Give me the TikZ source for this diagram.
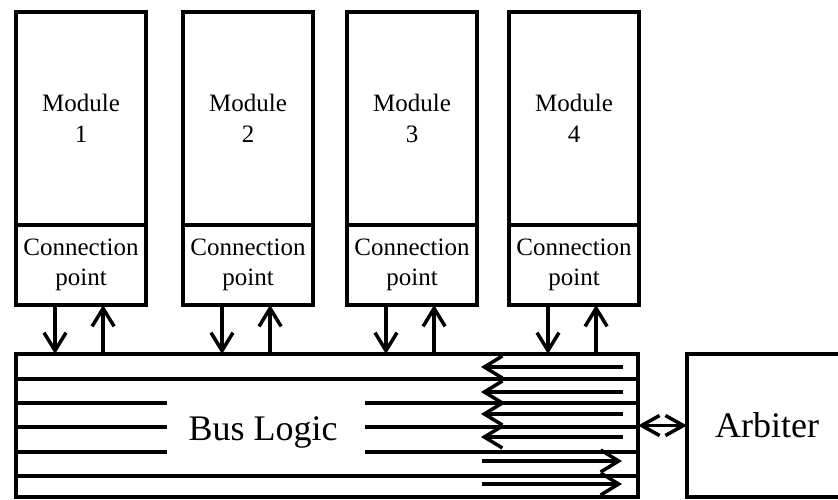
\documentclass[tikz,border=0pt]{standalone}
\usepackage{fontspec}
\setmainfont{Liberation Serif}
\usetikzlibrary{arrows.meta,calc}

\tikzset{
  box/.style={draw, line width=3.5pt, inner sep=0pt, outer sep=0pt, align=center},
  wire/.style={line width=3.5pt},
  barb/.style={line width=3.5pt, -{Straight Barb[length=18pt,width=22pt]}},
  dbarb/.style={line width=3.5pt, {Straight Barb[length=18pt,width=20pt]}-{Straight Barb[length=18pt,width=20pt]}},
}

\begin{document}
\begin{tikzpicture}[x=1pt,y=-1pt]
    \useasboundingbox (0,0) rectangle (838,499);
    \clip (0,0) rectangle (838,499);
    \node[box, minimum width=622pt, minimum height=143pt] (bus) at (327,425.5) {};
    \node[font=\fontsize{36}{40}\selectfont, anchor=base] (buslabel) at (263,440) {Bus Logic};
    \node[box, minimum width=160pt, minimum height=143pt, font=\fontsize{36}{40}\selectfont] (arb) at (767,425.5) {Arbiter};
    \foreach \i/\x in {1/81,2/248,3/412,4/574} {
      \node[box, minimum width=130pt, minimum height=213pt, font=\fontsize{25}{31}\selectfont]
        (m\i) at (\x,118.5) {Module\\\i};
      \node[box, minimum width=130pt, minimum height=80pt, font=\fontsize{25}{30}\selectfont, anchor=north]
        (cp\i) at (m\i.south) {Connection\\point};
      \coordinate (dn\i) at ($(cp\i.south west)!0.30!(cp\i.south east)$);
      \coordinate (up\i) at ($(cp\i.south west)!0.67!(cp\i.south east)$);
      \draw[barb] (dn\i) -- (dn\i |- bus.north);
      \draw[barb] (up\i |- bus.north) -- (up\i);
    }
    \foreach \y in {379,476}
      \draw[wire] (bus.west |- 0,\y) -- (bus.east |- 0,\y);
    \foreach \y in {403,427,452} {
      \draw[wire] (bus.west |- 0,\y) -- (167,\y);
      \draw[wire] (365,\y) -- (bus.east |- 0,\y);
    }
    \foreach \y in {367,392,414,437}
      \draw[barb] (623,\y) -- (481,\y);
    \foreach \y in {461,484}
      \draw[barb] (482,\y) -- (622,\y);
    \draw[dbarb] (bus.east) -- (arb.west);
\end{tikzpicture}
\end{document}
